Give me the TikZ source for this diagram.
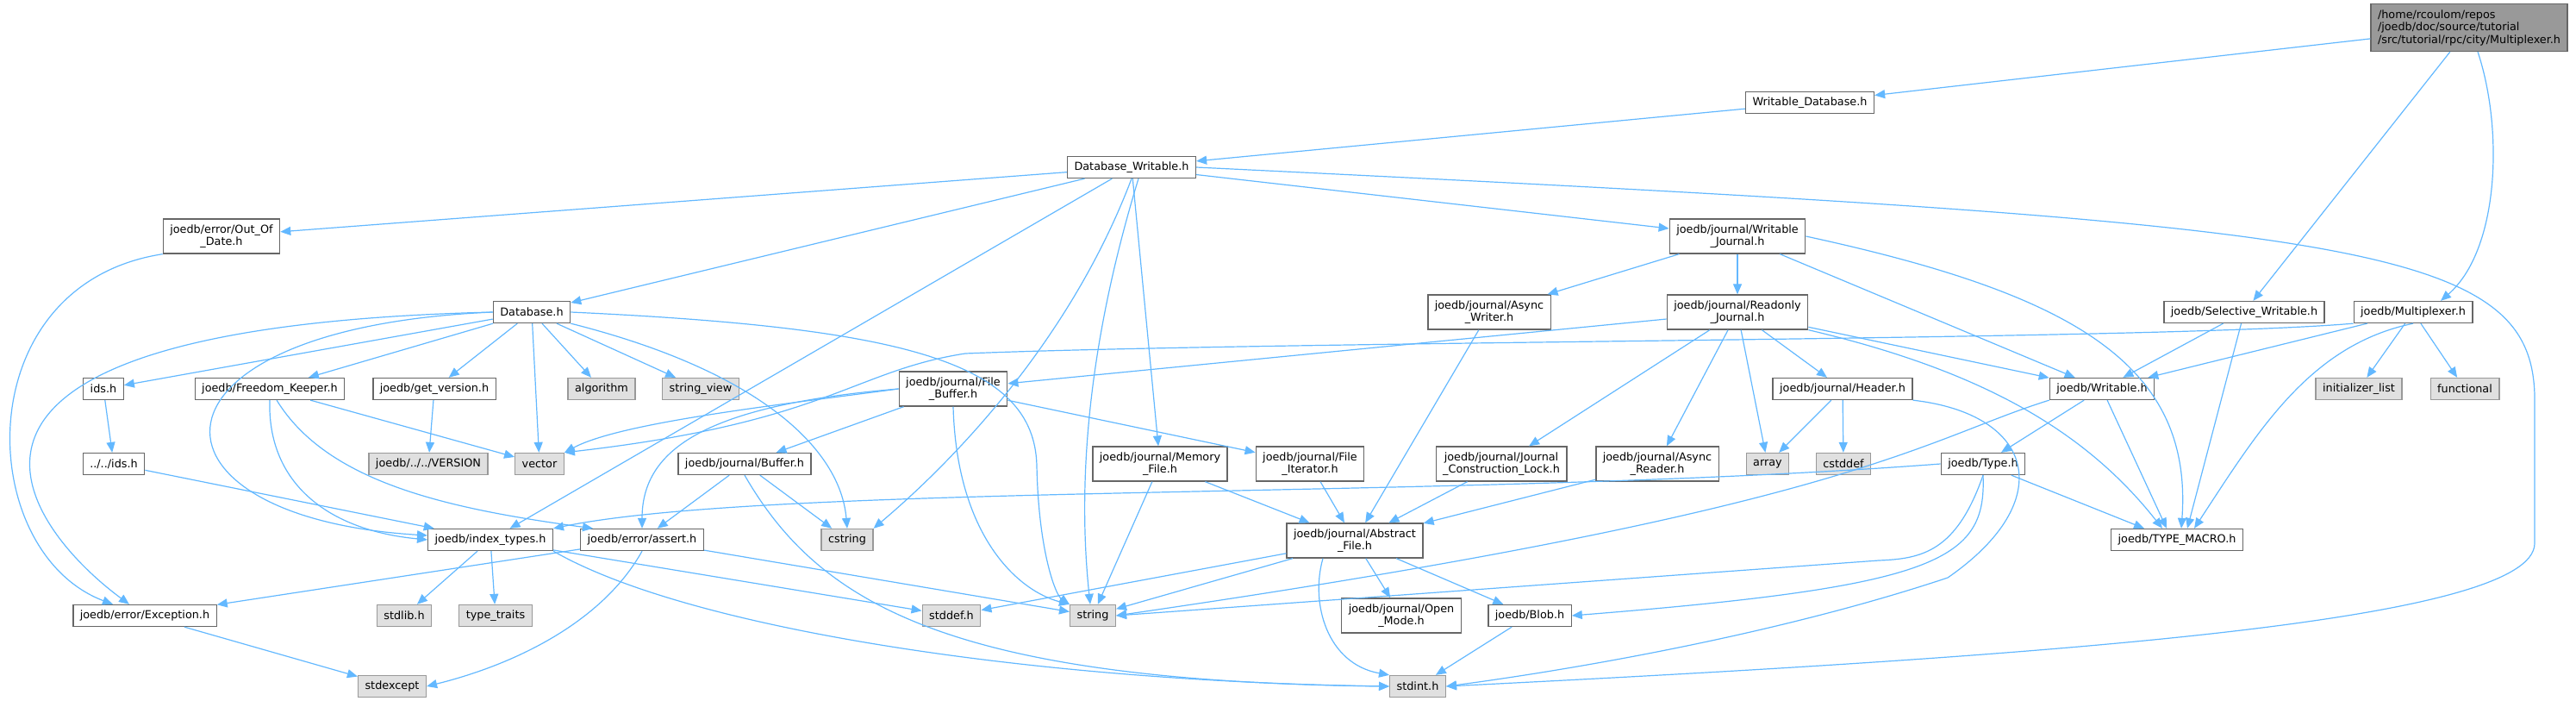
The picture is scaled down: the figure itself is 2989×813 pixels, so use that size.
\documentclass[tikz,border=0pt]{standalone}
\usepackage{fontspec}
\newfontfamily\dvs{DejaVu Sans}
\usetikzlibrary{arrows.meta}

\definecolor{edgeblue}{HTML}{63B8FF}
\definecolor{boxline}{HTML}{666666}
\definecolor{sysline}{HTML}{999999}
\definecolor{sysfill}{HTML}{E0E0E0}
\definecolor{rootfill}{HTML}{999999}

\tikzset{
  hfile/.style={draw=boxline, line width=1.3pt, fill=white, inner xsep=8pt, inner ysep=2pt,
    minimum height=25pt, align=center, font={\dvs\fontsize{12.8}{14.5}\selectfont}},
  sysfile/.style={hfile, draw=sysline, fill=sysfill},
  rootfile/.style={hfile, fill=rootfill, minimum height=55pt, align=left},
  twoline/.style={minimum height=40pt},
  inc/.style={draw=edgeblue, line width=1.2pt, -{Triangle[length=12pt,width=10pt]}}
}

\begin{document}
\begin{tikzpicture}[x=1pt,y=-1pt]
  \useasboundingbox (0,0) rectangle (2989,813);

  % top
  \node[rootfile] (root) at (2865,32) {/home/rcoulom/repos\\/joedb/doc/source/tutorial\\/src/tutorial/rpc/city/Multiplexer.h};
  \node[hfile] (wdb) at (2100,119) {Writable\_Database.h};
  \node[hfile] (dw) at (1313,194) {Database\_Writable.h};
  % row 3
  \node[hfile, twoline] (ood) at (257,274) {joedb/error/Out\_Of\\\_Date.h};
  \node[hfile, twoline] (wj) at (2016,274) {joedb/journal/Writable\\\_Journal.h};
  % row 4
  \node[hfile] (db) at (617,362) {Database.h};
  \node[hfile, twoline] (aw) at (1728,362) {joedb/journal/Async\\\_Writer.h};
  \node[hfile, twoline] (rj) at (2016,362) {joedb/journal/Readonly\\\_Journal.h};
  \node[hfile] (sw) at (2604,362) {joedb/Selective\_Writable.h};
  \node[hfile] (mx) at (2800,362) {joedb/Multiplexer.h};
  % row 5
  \node[hfile] (ids) at (120,451) {ids.h};
  \node[hfile] (fk) at (313,451) {joedb/Freedom\_Keeper.h};
  \node[hfile] (gv) at (504,451) {joedb/get\_version.h};
  \node[sysfile] (alg) at (698,451) {algorithm};
  \node[sysfile] (sv) at (813,451) {string\_view};
  \node[hfile, twoline] (fb) at (1106,451) {joedb/journal/File\\\_Buffer.h};
  \node[hfile] (hdr) at (2138,451) {joedb/journal/Header.h};
  \node[hfile] (wr) at (2439,451) {joedb/Writable.h};
  \node[sysfile] (il) at (2737,451) {initializer\_list};
  \node[sysfile] (fn) at (2860,451) {functional};
  % row 6
  \node[hfile] (ids2) at (132,538) {../../ids.h};
  \node[sysfile] (ver) at (497,538) {joedb/../../VERSION};
  \node[sysfile] (vec) at (626,538) {vector};
  \node[hfile] (buf) at (864,538) {joedb/journal/Buffer.h};
  \node[hfile, twoline] (mf) at (1346,538) {joedb/journal/Memory\\\_File.h};
  \node[hfile, twoline] (fi) at (1520,538) {joedb/journal/File\\\_Iterator.h};
  \node[hfile, twoline] (jcl) at (1742,538) {joedb/journal/Journal\\\_Construction\_Lock.h};
  \node[hfile, twoline] (ar) at (1923,538) {joedb/journal/Async\\\_Reader.h};
  \node[sysfile] (arr) at (2051,538) {array};
  \node[sysfile] (csd) at (2139,538) {cstddef};
  \node[hfile] (typ) at (2301,538) {joedb/Type.h};
  % row 7
  \node[hfile] (it) at (569,626) {joedb/index\_types.h};
  \node[hfile] (asr) at (745,626) {joedb/error/assert.h};
  \node[sysfile] (cstr) at (983,626) {cstring};
  \node[hfile, twoline] (af) at (1572,627) {joedb/journal/Abstract\\\_File.h};
  \node[hfile] (tm) at (2526,626) {joedb/TYPE\_MACRO.h};
  % row 8
  \node[hfile] (exc) at (168,714) {joedb/error/Exception.h};
  \node[sysfile] (stdl) at (469,714) {stdlib.h};
  \node[sysfile] (tt) at (575,714) {type\_traits};
  \node[sysfile] (sdd) at (1104,714) {stddef.h};
  \node[sysfile] (str) at (1268,714) {string};
  \node[hfile, twoline] (om) at (1626,714) {joedb/journal/Open\\\_Mode.h};
  \node[hfile] (blob) at (1775,714) {joedb/Blob.h};
  % bottom
  \node[sysfile] (sexc) at (455,796) {stdexcept};
  \node[sysfile] (sint) at (1645,796) {stdint.h};

  % root
  \draw[inc] (root) -- (wdb);
  \draw[inc] (root) -- (sw);
  \draw[inc] ([xshift=10]root.south) .. controls (2905,150) and (2900,290) .. ([xshift=32]mx.north);
  \draw[inc] (wdb) -- (dw);
  % Database_Writable
  \draw[inc] (dw) -- (ood);
  \draw[inc] (dw) -- (db);
  \draw[inc] (dw) -- (wj);
  \draw[inc] (dw.east) .. controls (2750,260) and (2945,280) .. (2941,470) -- (2941,630) .. controls (2941,720) and (2400,760) .. (sint.east);
  \draw[inc] ([xshift=8]dw.south) .. controls (1262,400) and (1250,560) .. ([xshift=-3]str.north);
  \draw[inc] (dw.south) .. controls (1240,400) and (1100,540) .. (cstr.north east);
  \draw[inc] (dw) -- (it);
  \draw[inc] (dw) -- (mf);
  % Out_Of_Date
  \draw[inc] (ood.south west) .. controls (-40,330) and (-30,640) .. ([xshift=-37]exc.north);
  % Database
  \draw[inc] (db.west) .. controls (-170,380) and (40,620) .. ([xshift=-18]exc.north);
  \draw[inc] (db) -- (ids);
  \draw[inc] (db.west) .. controls (150,380) and (150,600) .. ([yshift=5]it.west);
  \draw[inc] (db) -- (fk);
  \draw[inc] (db) -- (gv);
  \draw[inc] (db) -- (alg);
  \draw[inc] (db) -- (sv);
  \draw[inc] (db) -- (vec);
  \draw[inc] (db.south east) .. controls (880,430) and (975,520) .. (cstr.north);
  \draw[inc] (db.east) .. controls (1050,380) and (1200,420) .. (1203,540) .. controls (1205,640) and (1225,690) .. (str.north west);
  % ids
  \draw[inc] (ids) -- (ids2);
  \draw[inc] (ids2) -- (it);
  % Freedom_Keeper
  \draw[inc] (fk.south) .. controls (310,560) and (380,615) .. (it.west);
  \draw[inc] (fk) .. controls (380,560) and (520,590) .. ([xshift=15]asr.north west);
  \draw[inc] (fk) -- (vec);
  \draw[inc] (gv) -- (ver);
  % File_Buffer
  \draw[inc] (fb) -- (buf);
  \draw[inc] (fb) -- (fi);
  \draw[inc] (fb.south) .. controls (1110,620) and (1180,685) .. (str.north west);
  \draw[inc] (fb.west) .. controls (900,470) and (720,490) .. (vec.north east);
  \draw[inc] (fb.west) .. controls (820,470) and (745,520) .. (asr.north);
  % Multiplexer
  \draw[inc] (mx.south west) .. controls (2500,395) and (1500,395) .. (1120,410) .. controls (990,430) and (960,490) .. (vec.north east);
  \draw[inc] (mx) -- (wr);
  \draw[inc] (mx.south) .. controls (2680,400) and (2620,500) .. ([xshift=20]tm.north);
  \draw[inc] (mx) -- (il);
  \draw[inc] (mx) -- (fn);
  % Selective_Writable
  \draw[inc] (sw) -- (wr);
  \draw[inc] (sw) -- ([xshift=12]tm.north);
  % Writable
  \draw[inc] (wr) -- (typ);
  \draw[inc] (wr) -- ([xshift=-12]tm.north);
  \draw[inc] (wr.south west) .. controls (2230,510) and (2150,590) .. (str.east);
  % Type
  \draw[inc] (typ) -- ([xshift=-38]tm.north);
  \draw[inc] (typ.west) .. controls (1700,580) and (900,560) .. (it.north east);
  \draw[inc] (typ.south) .. controls (2270,640) and (2230,648) .. (2180,650) -- (str.east);
  \draw[inc] (typ.south) .. controls (2305,650) and (2250,680) .. (blob.east);
  % Header
  \draw[inc] (hdr) -- (arr);
  \draw[inc] (hdr) -- (csd);
  \draw[inc] (hdr.south east) .. controls (2360,480) and (2390,580) .. (2260,670) .. controls (2050,740) and (1800,780) .. (sint.east);
  % Readonly_Journal
  \draw[inc] (rj) -- (fb);
  \draw[inc] (rj) -- (jcl);
  \draw[inc] (rj) -- (ar);
  \draw[inc] (rj) -- (arr);
  \draw[inc] (rj) -- (hdr);
  \draw[inc] (rj) -- (wr);
  \draw[inc] (rj.south east) .. controls (2300,430) and (2420,500) .. ([xshift=-17]tm.north);
  % Writable_Journal
  \draw[inc] (wj) -- (aw);
  \draw[inc] (wj) -- (rj);
  \draw[inc] (wj) -- (wr);
  \draw[inc] (wj.east) .. controls (2400,340) and (2545,420) .. ([xshift=5]tm.north);
  % journal files
  \draw[inc] (aw) -- (af);
  \draw[inc] (mf) -- (str);
  \draw[inc] (mf) -- (af);
  \draw[inc] (fi) -- (af);
  \draw[inc] (jcl) -- (af);
  \draw[inc] (ar) -- (af);
  % Abstract_File
  \draw[inc] (af) -- (sdd);
  \draw[inc] (af) -- (str);
  \draw[inc] ([xshift=-37]af.south) .. controls (1520,700) and (1540,770) .. (sint.north west);
  \draw[inc] (af) -- (om);
  \draw[inc] (af) -- (blob);
  \draw[inc] (blob) -- (sint);
  % Buffer
  \draw[inc] (buf) -- (asr);
  \draw[inc] (buf) -- (cstr);
  \draw[inc] (buf.south) .. controls (950,700) and (1100,790) .. (sint.west);
  % index_types
  \draw[inc] (it) -- (stdl);
  \draw[inc] (it) -- (tt);
  \draw[inc] (it) -- (sdd);
  \draw[inc] (it.south east) .. controls (800,730) and (1200,790) .. (sint.west);
  % assert
  \draw[inc] (asr) -- (exc);
  \draw[inc] (asr.south) .. controls (700,720) and (600,770) .. (sexc.east);
  \draw[inc] (asr) -- (str);
  \draw[inc] (exc) -- (sexc);
\end{tikzpicture}
\end{document}
